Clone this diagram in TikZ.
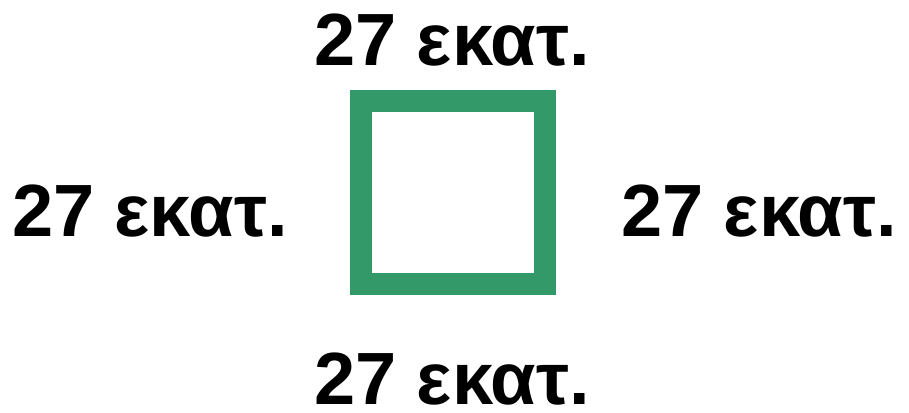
\documentclass[tikz,border=0pt]{standalone}
\usepackage{fontspec}
\setmainfont{Liberation Sans}
\usepackage{tikz}
\definecolor{sqgreen}{RGB}{52,153,104}

\begin{document}
\begin{tikzpicture}[x=1pt, y=-1pt,
  lbl/.style={font=\fontsize{74}{80}\selectfont\bfseries, inner sep=0pt, anchor=base},
  frame/.style={draw=sqgreen, line width=22pt}]
\useasboundingbox (0,0) rectangle (909,412);
\draw[frame] (361,100.5) rectangle (545,284);
\node[lbl] (top) at (452,66) {27 εκατ.};
\node[lbl] (lft) at (150,236) {27 εκατ.};
\node[lbl] (rgt) at (759,236) {27 εκατ.};
\node[lbl] (bot) at (452,404) {27 εκατ.};
\end{tikzpicture}
\end{document}
